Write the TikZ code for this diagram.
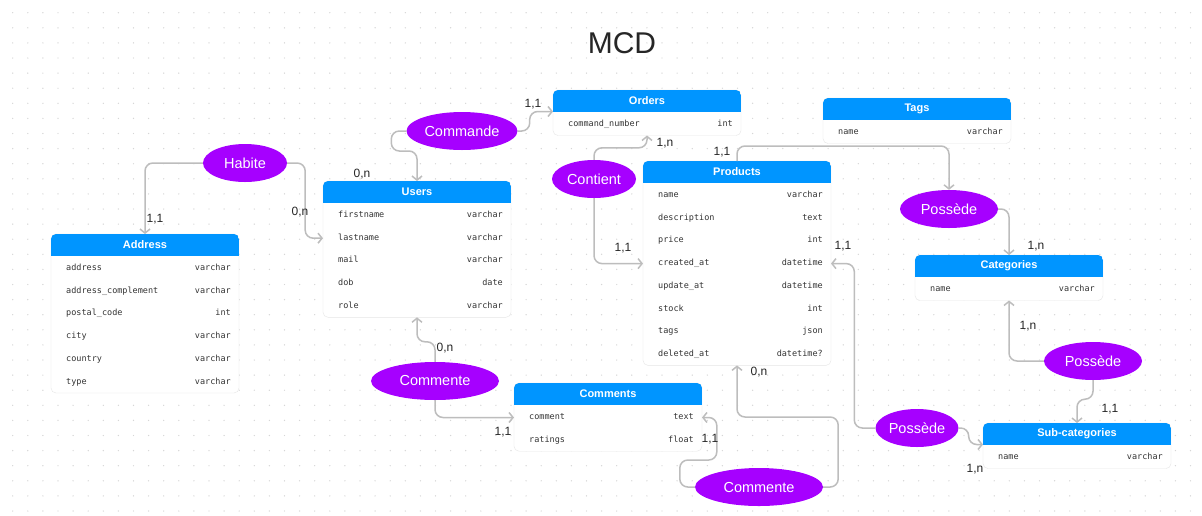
\documentclass[tikz,border=0pt]{standalone}
\usepackage{fontspec}
\setmainfont{Liberation Sans}
\newfontfamily\monofont{DejaVu Sans Mono}
\usetikzlibrary{arrows.meta,shapes.geometric,calc}
\definecolor{headblue}{HTML}{0095FF}
\definecolor{relpurple}{HTML}{A600FF}
\definecolor{linkgrey}{HTML}{BDBDBD}
\definecolor{tabline}{HTML}{E6E6E6}
\definecolor{griddot}{HTML}{D6D6D6}
\tikzset{
	relation/.style={ellipse, fill=relpurple, text=white, inner sep=0pt, minimum height=38pt, font=\fontsize{14.5}{16}\selectfont},
	link/.style={draw=linkgrey, line width=1.5pt, rounded corners=8pt, -{Straight Barb[length=4pt,width=10pt]}},
	card/.style={font=\fontsize{12}{14}\selectfont, text=black!85, inner sep=0pt},
	tabtitle/.style={text=white, font=\bfseries\fontsize{11}{13}\selectfont, inner sep=0pt},
	fieldname/.style={anchor=west, inner sep=0pt, text height=6pt, text depth=2pt, text=black!80, font=\monofont\fontsize{8.5}{10}\selectfont},
	fieldtype/.style={anchor=east, inner sep=0pt, text height=6pt, text depth=2pt, text=black!80, font=\monofont\fontsize{8.5}{10}\selectfont},
}
% one entity: name, x, y (top left), title, number of rows, fields
\newcommand{\mcdtable}[6]{%
	\pgfmathsetmacro{\tabh}{45.5+(#5-1)*22.7}
	\node[inner sep=0pt, outer sep=0pt, minimum width=188pt, minimum height=\tabh pt, anchor=north west] (#1) at (#2,#3) {};
	\filldraw[fill=white, draw=tabline, rounded corners=5pt] (#1.north west) rectangle (#1.south east);
	\begin{scope}
		\clip[rounded corners=5pt] (#1.north west) rectangle (#1.south east);
		\fill[headblue] (#1.north west) rectangle ([yshift=-21.5pt]#1.north east);
	\end{scope}
	\coordinate (#1-hd) at ([yshift=-21.5pt]#1.north);
	\node[tabtitle] (#1-title) at ([yshift=-10.75pt]#1.north) {#4};
	\foreach \f/\t [count=\i] in {#6}{
		\pgfmathsetmacro{\rowy}{34.5+(\i-1)*22.7}
		\node[fieldname] (#1-\i) at ($(#1.north west)+(15,\rowy)$) {\f};
		\node[fieldtype] (#1-t\i) at ($(#1.north east)+(-8,\rowy)$) {\t};
	}
}

\begin{document}
\begin{tikzpicture}[x=1pt,y=-1pt]
	\useasboundingbox (0,0) rectangle (1202,515);
	\fill[white] (0,0) rectangle (1202,515);
	% dotted background
	\foreach \x in {0,...,78}{
		\foreach \y in {0,...,33}{
			\fill[griddot] (12.7+15.1*\x,12.7+15.1*\y) circle (0.7pt);
		}
	}
	\node[font=\fontsize{30}{36}\selectfont, text=black!85] (title) at (622,43) {MCD};

	% entities
	\mcdtable{address}{51}{234}{Address}{6}{address/varchar, address\_complement/varchar, postal\_code/int, city/varchar, country/varchar, type/varchar}
	\mcdtable{users}{323}{181}{Users}{5}{firstname/varchar, lastname/varchar, mail/varchar, dob/date, role/varchar}
	\mcdtable{orders}{553}{90}{Orders}{1}{command\_number/int}
	\mcdtable{tags}{823}{98}{Tags}{1}{name/varchar}
	\mcdtable{products}{643}{161}{Products}{8}{name/varchar, description/text, price/int, created\_at/datetime, update\_at/datetime, stock/int, tags/json, deleted\_at/datetime?}
	\mcdtable{categories}{915}{255}{Categories}{1}{name/varchar}
	\mcdtable{subcat}{983}{423}{Sub-categories}{1}{name/varchar}
	\mcdtable{comments}{514}{383}{Comments}{2}{comment/text, ratings/float}

	% relations
	\node[relation, minimum width=84pt] (habite) at (245,163) {Habite};
	\node[relation, minimum width=111pt] (commande) at (462,131) {Commande};
	\node[relation, minimum width=84pt] (contient) at (594,179) {Contient};
	\node[relation, minimum width=128pt] (commente1) at (435,381) {Commente};
	\node[relation, minimum width=128pt] (commente2) at (759,487) {Commente};
	\node[relation, minimum width=98pt] (possede1) at (949,209) {Possède};
	\node[relation, minimum width=98pt] (possede2) at (1093,361) {Possède};
	\node[relation, minimum width=83pt] (possede3) at (917,428) {Possède};

	% links
	\draw[link] (habite.west) -| (address.north);
	\draw[link] (habite.east) -- ++(18,0) |- (users.west |- users-2);
	\draw[link] (commande.west) -| ++(-15,20) -| (users.north);
	\draw[link] (commande.east) -- ++(12,0) |- (orders.west |- orders-hd);
	\draw[link] (contient.north) -- ++(0,-12) -| (orders.south);
	\draw[link] (contient.south) |- (products.west |- products-4);
	\draw[link] (products.north) -- ++(0,-15) -| (possede1.north);
	\draw[link] (possede1.east) -| (categories.north);
	\draw[link] (possede2.west) -| (categories.south);
	\draw[link] (possede2.south) -- ++(0,19) -| (subcat.north);
	\draw[link] (possede3.west) -- ++(-21,0) |- (products.east |- products-4);
	\draw[link] (possede3.east) -- ++(10,0) |- (subcat.west |- subcat-hd);
	\draw[link] (commente1.north) -- ++(0,-20) -| (users.south);
	\draw[link] (commente1.south) |- (comments.west |- comments-1);
	\draw[link] (commente2.west) -| ++(-15,-27) -- ++(37,0) |- (comments.east |- comments-1);
	\draw[link] (commente2.east) -| ++(15,-70) -| (products.south);

	% cardinalities
	\node[card] (c1) at (155,219) {1,1};
	\node[card] (c2) at (300,212) {0,n};
	\node[card] (c3) at (362,174) {0,n};
	\node[card] (c4) at (533,104) {1,1};
	\node[card] (c5) at (665,143) {1,n};
	\node[card] (c6) at (623,248) {1,1};
	\node[card] (c7) at (722,152) {1,1};
	\node[card] (c8) at (1036,246) {1,n};
	\node[card] (c9) at (1028,326) {1,n};
	\node[card] (c10) at (1110,409) {1,1};
	\node[card] (c11) at (843,246) {1,1};
	\node[card] (c12) at (975,469) {1,n};
	\node[card] (c13) at (445,348) {0,n};
	\node[card] (c14) at (503,432) {1,1};
	\node[card] (c15) at (710,439) {1,1};
	\node[card] (c16) at (759,372) {0,n};
\end{tikzpicture}
\end{document}
